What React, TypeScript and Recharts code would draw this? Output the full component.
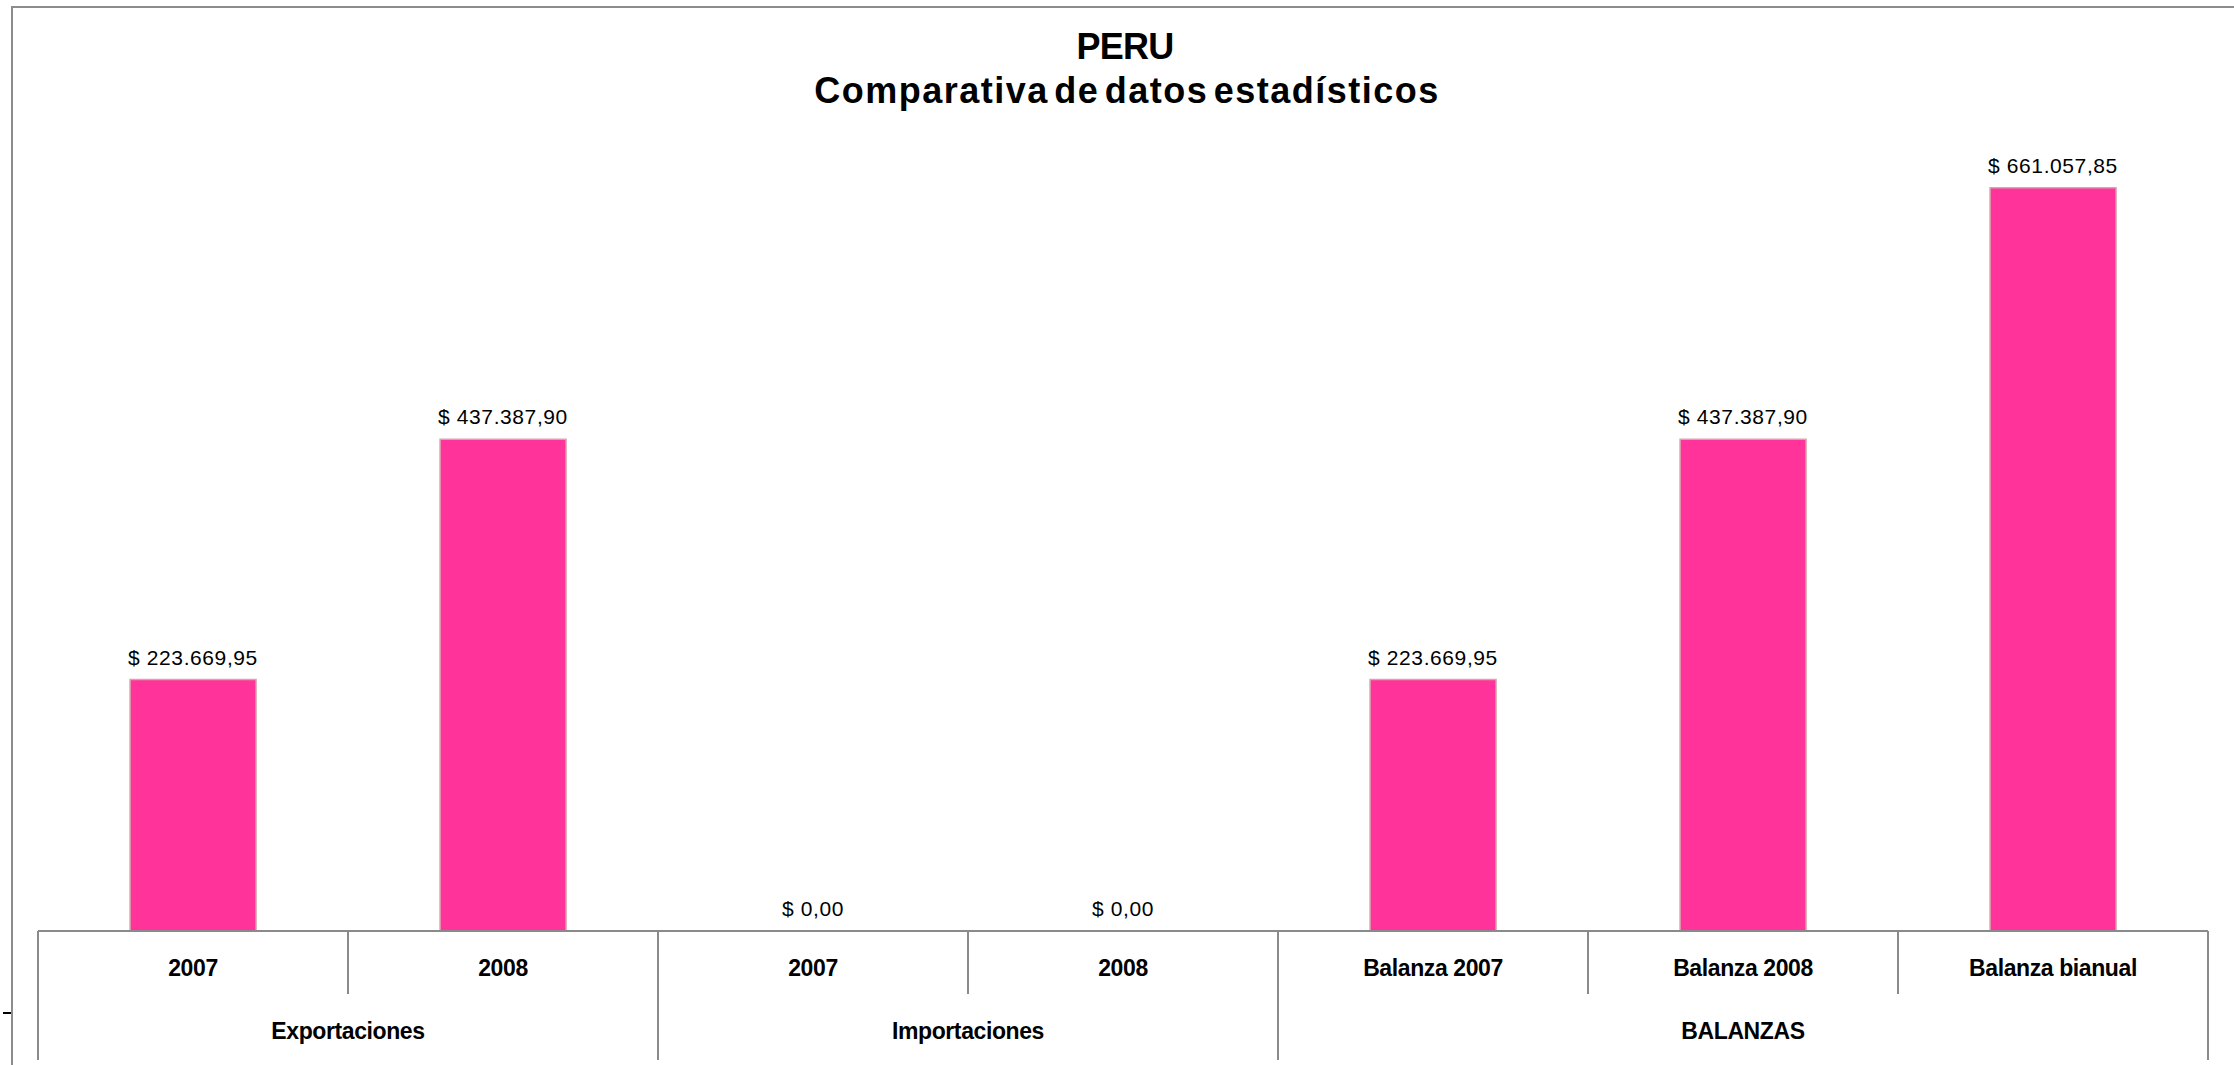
import React from 'react';
import { ComposedChart, Bar, Line, XAxis, YAxis, LabelList } from 'recharts';

const categories = ['2007', '2008', '2007', '2008', 'Balanza 2007', 'Balanza 2008', 'Balanza bianual'];
const groups = ['Exportaciones', 'Exportaciones', 'Importaciones', 'Importaciones', 'BALANZAS', 'BALANZAS', 'BALANZAS'];
const values = [223669.95, 437387.9, 0, 0, 223669.95, 437387.9, 661057.85];
const yDomain = [0, 700000];
const titleLines = ['PERU', 'Comparativa de datos estadísticos'];

const data = categories.map((c, i) => ({ key: `k${i}`, category: c, group: groups[i], value: values[i] }));

const FONT = '"Liberation Sans", Arial, Helvetica, sans-serif';
const W = 2234;
const H = 1065;
const PLOT_LEFT = 38;
const PLOT_RIGHT = 2208;
const AXIS_Y = 931;
const PLOT_TOP = 144;
const AXIS_COLOR = '#8a8a8a';

function fmt(v: number): string {
  const fixed = v.toFixed(2);
  const [intPart, dec] = fixed.split('.');
  const withDots = intPart.replace(/\B(?=(\d{3})+(?!\d))/g, '.');
  return `$ ${withDots},${dec}`;
}

function CategoryTick(props: any) {
  const { x, payload } = props;
  const i: number = payload && typeof payload.index === 'number' ? payload.index : props.index;
  const band = (PLOT_RIGHT - PLOT_LEFT) / categories.length;
  const half = payload && payload.offset ? payload.offset : band / 2;
  const left = x - half;
  const right = x + half;
  const groupStart = i === 0 || groups[i - 1] !== groups[i];
  const isLast = i === categories.length - 1;
  let groupCount = 0;
  if (groupStart) {
    for (let j = i; j < groups.length && groups[j] === groups[i]; j++) groupCount++;
  }
  const groupCenter = left + groupCount * half;
  return (
    <g>
      <line x1={left} x2={left} y1={AXIS_Y} y2={groupStart ? AXIS_Y + 129 : AXIS_Y + 63} stroke={AXIS_COLOR} strokeWidth={2} />
      {isLast && <line x1={right} x2={right} y1={AXIS_Y} y2={AXIS_Y + 129} stroke={AXIS_COLOR} strokeWidth={2} />}
      <text x={x} y={AXIS_Y + 45} textAnchor="middle" fontFamily={FONT} fontWeight="bold" fontSize={23} letterSpacing={-0.4} fill="#000">
        {categories[i]}
      </text>
      {groupStart && (
        <text x={groupCenter} y={AXIS_Y + 108} textAnchor="middle" fontFamily={FONT} fontWeight="bold" fontSize={23} letterSpacing={-0.4} fill="#000">
          {groups[i]}
        </text>
      )}
    </g>
  );
}

export default function App() {
  return (
    <div style={{ position: 'absolute', left: 0, top: 0, width: W, height: H, overflow: 'hidden', background: '#fff' }}>
      <div style={{ position: 'absolute', left: 11, top: 6, width: W + 100, height: H + 100, borderTop: '2px solid #8c8c8c', borderLeft: '2px solid #8c8c8c' }} />
      <div style={{ position: 'absolute', left: 3, top: 1012, width: 8, height: 2, background: '#000' }} />
      <svg style={{ position: 'absolute', left: 0, top: 0 }} width={W} height={130}>
        <text x={1125} y={59} textAnchor="middle" fontFamily={FONT} fontWeight="bold" fontSize={36} letterSpacing={-0.8} fill="#000">
          {titleLines[0]}
        </text>
        <text x={1127} y={103} textAnchor="middle" fontFamily={FONT} fontWeight="bold" fontSize={36} letterSpacing={1.5} wordSpacing={-6} fill="#000">
          {titleLines[1]}
        </text>
      </svg>
      <div style={{ position: 'absolute', left: 0, top: 0 }}>
        <ComposedChart
          width={W}
          height={H}
          data={data}
          margin={{ top: PLOT_TOP, right: W - PLOT_RIGHT, bottom: 0, left: PLOT_LEFT }}
          barCategoryGap="29.7%"
        >
          <YAxis hide domain={yDomain} type="number" />
          <XAxis
            dataKey="key"
            height={H - AXIS_Y}
            interval={0}
            tickLine={false}
            axisLine={{ stroke: AXIS_COLOR, strokeWidth: 2 }}
            tick={<CategoryTick />}
          />
          <Bar dataKey="value" fill="#FF3399" stroke="#D9A3AE" strokeWidth={1.5} isAnimationActive={false} />
          <Line
            dataKey="value"
            stroke="none"
            dot={false}
            activeDot={false}
            legendType="none"
            isAnimationActive={false}
          >
            <LabelList
              dataKey="value"
              position="top"
              offset={15}
              formatter={(v: any) => fmt(Number(v))}
              style={{ fontFamily: FONT, fontSize: 21, letterSpacing: 0.6, fill: '#000' }}
            />
          </Line>
        </ComposedChart>
      </div>
    </div>
  );
}
